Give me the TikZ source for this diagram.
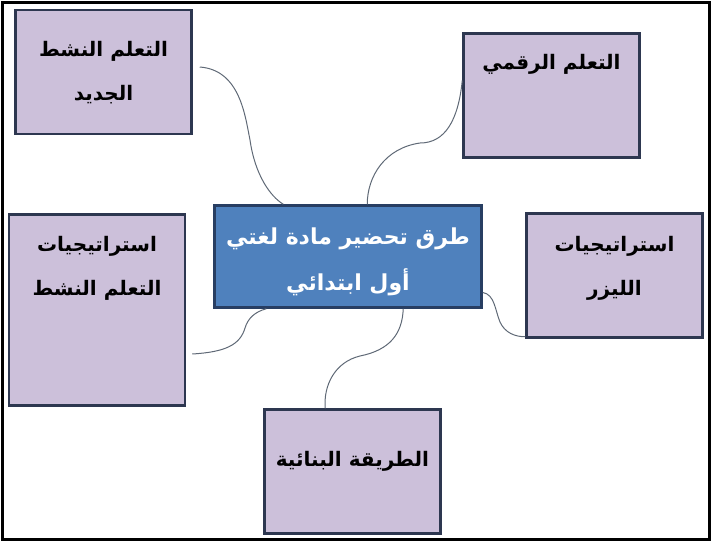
\documentclass[tikz,border=0pt]{standalone}
\usepackage{fontspec}
\usetikzlibrary{positioning,calc}
\newfontfamily\arabicfont[Script=Arabic]{DejaVu Sans}
\TeXXeTstate=1
\newcommand{\ar}[1]{\beginR #1\endR}
\definecolor{lavender}{RGB}{204,192,218}
\definecolor{boxedge}{RGB}{45,55,80}
\definecolor{mainblue}{RGB}{79,129,189}
\definecolor{mainedge}{RGB}{40,62,98}
\definecolor{linkgray}{RGB}{95,105,118}

\begin{document}
\begin{tikzpicture}[x=1pt, y=-1pt]
      \tikzstyle{block} = [rectangle, draw=boxedge, line width=2.5pt,
                           fill=lavender, minimum width=176pt,
                           minimum height=124pt, inner sep=0pt]
      \tikzstyle{caption} = [font=\arabicfont\bfseries\fontsize{20}{44}\selectfont,
                             align=center, inner sep=0pt, text=black]
      \tikzstyle{link} = [draw=linkgray, line width=1pt]
      \useasboundingbox (0,0) rectangle (711,541);
      \draw[line width=3pt] (2,2) rectangle (709,539);
      \node[rectangle, draw=mainedge, line width=2.5pt, fill=mainblue,
            minimum width=267pt, minimum height=102pt, inner sep=0pt]
        (main) at (348,256.5) {};
      \node[caption, text=white, font=\arabicfont\bfseries\fontsize{22}{46}\selectfont,
            below=23pt of main.north] (maintxt)
        {\ar{طرق تحضير مادة لغتي}\\\ar{أول ابتدائي}};
      \node[block] (jadid) at (103.5,72) {};
      \node[block] (raqmi) at (551.5,95.5) {};
      \node[block, minimum height=191pt] (nashat) at (97,310) {};
      \node[block] (laser) at (614.5,275.5) {};
      \node[block] (binaiya) at (352.5,471.5) {};
      \node[caption, below=32pt of jadid.north] (jadidtxt)
        {\ar{التعلم النشط}\\\ar{الجديد}};
      \node[caption, below=22pt of raqmi.north] (raqmitxt) {\ar{التعلم الرقمي}};
      \node[caption, below=23pt of nashat.north] (nashattxt)
        {\ar{استراتيجيات}\\\ar{التعلم النشط}};
      \node[caption, below=24pt of laser.north] (lasertxt)
        {\ar{استراتيجيات}\\\ar{الليزر}};
      \node[caption, below=43pt of binaiya.north] (binaiyatxt)
        {\ar{الطريقة البنائية}};
      % wavy links
      \path[link] ($(jadid.east)+(7,-5)$) .. controls +(40,3) and +(-5,-25) ..
        (250,140) .. controls +(5,35) and +(-13,-8) .. ($(main.north west)+(70,0)$);
      \path[link] ($(raqmi.west)+(0,-15)$) .. controls +(-4,40) and +(25,0) ..
        (420,143) .. controls +(-35,5) and +(0,-28) .. ($(main.north west)+(154,0)$);
      \path[link] ($(nashat.east)+(6,44)$) .. controls +(33,-2) and +(-5,17) ..
        (245,328) .. controls +(3,-10) and +(-11,3) .. ($(main.south west)+(53,0)$);
      \path[link] ($(main.east)+(0,36)$) .. controls +(12,2) and +(-5,-12) ..
        (500,322) .. controls +(5,11) and +(-10,0) .. ($(laser.south west)+(0,-2)$);
      \path[link] ($(main.south west)+(190,0)$) .. controls +(-1,25) and +(30,-6) ..
        (360,356) .. controls +(-25,6) and +(-2,-23) .. ($(binaiya.north west)+(62,0)$);
    \end{tikzpicture}
\end{document}
